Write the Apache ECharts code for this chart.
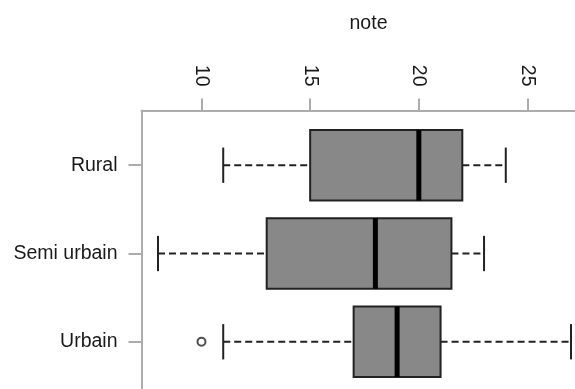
<!DOCTYPE html>
<html>
<head>
<meta charset="utf-8">
<script src="https://cdn.jsdelivr.net/npm/echarts@6/dist/echarts.min.js"></script>
<style>html,body{margin:0;padding:0;background:#fff;}#c{width:575px;height:389px;}</style>
</head>
<body>
<div id="c"></div>
<script>
var categories = ['Rural', 'Semi urbain', 'Urbain'];
var whiskerLow  = [11, 8, 11];
var q1          = [15, 13, 17];
var median      = [20, 18, 19];
var q3          = [22, 21.5, 21];
var whiskerHigh = [24, 23, 27];
var outliers = [[10, 3]]; // [value, category position]
var xTicks = [10, 15, 20, 25];
var yTicks = [1, 2, 3];

var FONT = '"Liberation Sans", Arial, sans-serif';
var boxData = categories.map(function (c, i) {
  return [i + 1, whiskerLow[i], q1[i], median[i], q3[i], whiskerHigh[i]];
});

var chart = echarts.init(document.getElementById('c'), null, {renderer: 'canvas'});
chart.setOption({
  animation: false,
  backgroundColor: '#ffffff',
  title: {
    text: 'note', left: 363.5, top: 9, textAlign: 'center',
    textStyle: {fontFamily: FONT, fontSize: 19.5, fontWeight: 'normal', color: '#1a1a1a'}
  },
  grid: {left: 141.5, top: 110.5, width: 446, height: 286, containLabel: false, outerBoundsMode: 'none'},
  xAxis: {
    type: 'value', position: 'top', min: 7.24, max: 27.76,
    axisLine: {show: true, onZero: false, lineStyle: {color: '#acacac', width: 2}},
    axisTick: {show: true, customValues: xTicks, length: 12, lineStyle: {color: '#acacac', width: 2}},
    axisLabel: {customValues: xTicks, rotate: 90, margin: 24,
      fontFamily: FONT, fontSize: 19.5, color: '#1a1a1a'},
    splitLine: {show: false}
  },
  yAxis: {
    type: 'value', inverse: true, min: 0.38, max: 3.62,
    axisLine: {show: true, onZero: false, lineStyle: {color: '#acacac', width: 2}},
    axisTick: {show: true, customValues: yTicks, length: 13, lineStyle: {color: '#acacac', width: 2}},
    axisLabel: {customValues: yTicks, margin: 24, fontFamily: FONT, fontSize: 19.5, color: '#1a1a1a',
      formatter: function (v) { return categories[Math.round(v) - 1] || ''; }},
    splitLine: {show: false}
  },
  series: [{
    type: 'custom',
    data: boxData,
    clip: false,
    renderItem: function (params, api) {
      var y = api.value(0);
      var wl = api.value(1), a = api.value(2), m = api.value(3), b = api.value(4), wh = api.value(5);
      var halfBox = 0.4, halfCap = 0.2;
      var pWl = api.coord([wl, y]), pA = api.coord([a, y]), pB = api.coord([b, y]), pWh = api.coord([wh, y]);
      var top = api.coord([a, y - halfBox])[1], bot = api.coord([a, y + halfBox])[1];
      var capT = api.coord([wl, y - halfCap])[1], capB = api.coord([wl, y + halfCap])[1];
      var pM = api.coord([m, y]);
      var dash = {stroke: '#222', lineWidth: 2, lineDash: [7, 4]};
      var solid = {stroke: '#222', lineWidth: 2};
      return {
        type: 'group',
        children: [
          {type: 'line', shape: {x1: pWl[0], y1: pWl[1], x2: pA[0], y2: pA[1]}, style: dash},
          {type: 'line', shape: {x1: pB[0], y1: pB[1], x2: pWh[0], y2: pWh[1]}, style: dash},
          {type: 'line', shape: {x1: pWl[0], y1: capT, x2: pWl[0], y2: capB}, style: solid},
          {type: 'line', shape: {x1: pWh[0], y1: capT, x2: pWh[0], y2: capB}, style: solid},
          {type: 'rect', shape: {x: pA[0], y: top, width: pB[0] - pA[0], height: bot - top},
            style: {fill: '#888888', stroke: '#222', lineWidth: 2}},
          {type: 'line', shape: {x1: pM[0], y1: top, x2: pM[0], y2: bot}, style: {stroke: '#000', lineWidth: 5}}
        ]
      };
    }
  }, {
    type: 'scatter',
    data: outliers,
    symbol: 'emptyCircle',
    symbolSize: 8,
    itemStyle: {color: '#222', borderWidth: 1.6, borderColor: '#222'},
    silent: true
  }]
});
</script>
</body>
</html>
